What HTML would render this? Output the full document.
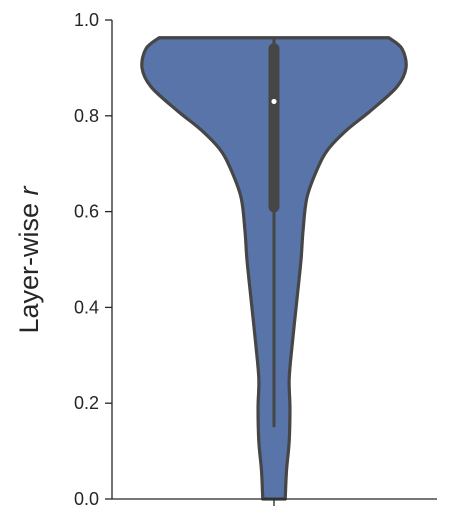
<!DOCTYPE html>
<html><head><meta charset="utf-8"><style>
html,body{margin:0;padding:0;background:#fff;}
svg{display:block;font-family:"Liberation Sans","DejaVu Sans",sans-serif;}
</style></head><body>
<svg id="chart" width="450" height="525" viewBox="0 0 450 525">
<g id="violin"></g>
<g id="axes"></g>
<text x="38" y="260" transform="rotate(-90 38 260)" text-anchor="middle" font-size="27" fill="#262626">Layer-wise <tspan font-style="italic">r</tspan></text>
</svg>
<script>
const yTicks = [0, 0.2, 0.4, 0.6, 0.8, 1.0];
const yTickLabels = ["0.0", "0.2", "0.4", "0.6", "0.8", "1.0"];
// density profile: value along y, and half-width of violin (relative, max=1)
const profileValues = [0.963, 0.94, 0.90, 0.86, 0.81, 0.77, 0.73, 0.69, 0.63, 0.56, 0.50, 0.42, 0.32, 0.25, 0.19, 0.12, 0.06, 0.0];
const profileWidths = [0.87, 0.97, 1.0, 0.93, 0.73, 0.55, 0.41, 0.33, 0.25, 0.22, 0.205, 0.175, 0.137, 0.115, 0.121, 0.115, 0.095, 0.085];
const boxQ1 = 0.61, boxQ3 = 0.94, median = 0.83, whiskerLow = 0.15, whiskerHigh = 0.96;

const ns = "http://www.w3.org/2000/svg";
const y0 = 499, y1 = 20, cx = 274, maxHalf = 132;
const yScale = v => y0 + (y1 - y0) * v;
const wScale = w => w * maxHalf;

function mk(tag, attrs, parent) {
  const e = document.createElementNS(ns, tag);
  for (const k in attrs) e.setAttribute(k, attrs[k]);
  parent.appendChild(e);
  return e;
}
const vg = document.getElementById('violin');
const right = profileValues.map((v, i) => [cx + wScale(profileWidths[i]), yScale(v)]);
const left = profileValues.map((v, i) => [cx - wScale(profileWidths[i]), yScale(v)]).reverse();
function smooth(pts) {
  let d = "";
  for (let i = 0; i < pts.length - 1; i++) {
    const p0 = pts[i - 1] || pts[i], p1 = pts[i], p2 = pts[i + 1], p3 = pts[i + 2] || p2;
    const c1 = [p1[0] + (p2[0] - p0[0]) / 6, p1[1] + (p2[1] - p0[1]) / 6];
    const c2 = [p2[0] - (p3[0] - p1[0]) / 6, p2[1] - (p3[1] - p1[1]) / 6];
    d += ` C${c1[0]},${c1[1]} ${c2[0]},${c2[1]} ${p2[0]},${p2[1]}`;
  }
  return d;
}
let d = `M${left[left.length-1][0]},${left[left.length-1][1]} L${right[0][0]},${right[0][1]}` + smooth(right) +
  ` L${left[0][0]},${left[0][1]}` + smooth(left) + " Z";
const body = mk('path', {d: d, fill: '#5874a8', stroke: '#464646', 'stroke-width': 3.2, 'stroke-linejoin': 'round'}, vg);


const wh = mk('line', {x1: cx, x2: cx, y1: yScale(whiskerLow), y2: yScale(whiskerHigh), stroke: '#464646', 'stroke-width': 3}, vg);


const bx = mk('line', {x1: cx, x2: cx, y1: yScale(boxQ1), y2: yScale(boxQ3), stroke: '#464646', 'stroke-width': 11, 'stroke-linecap': 'round'}, vg);


const md = mk('circle', {cx: cx, cy: yScale(median), r: 2.6, fill: '#fff'}, vg);



const ag = document.getElementById('axes');
const ya = mk('line', {x1: 112, x2: 112, y1: y1, y2: y0, stroke: '#262626', 'stroke-width': 1.3}, ag);


const xa = mk('line', {x1: 112, x2: 437, y1: y0, y2: y0, stroke: '#262626', 'stroke-width': 1.3}, ag);


const xt = mk('line', {x1: cx, x2: cx, y1: y0, y2: y0 + 7, stroke: '#262626', 'stroke-width': 1.3}, ag);


yTicks.forEach((v, i) => {
  const t = mk('line', {x1: 105, x2: 112, y1: yScale(v), y2: yScale(v), stroke: '#262626', 'stroke-width': 1.3}, ag);
  
  
  const l = mk('text', {x: 99, y: yScale(v) + 6, 'text-anchor': 'end', 'font-size': 18, fill: '#262626'}, ag);
  l.textContent = yTickLabels[i];
  
  
});
</script>
</body></html>
